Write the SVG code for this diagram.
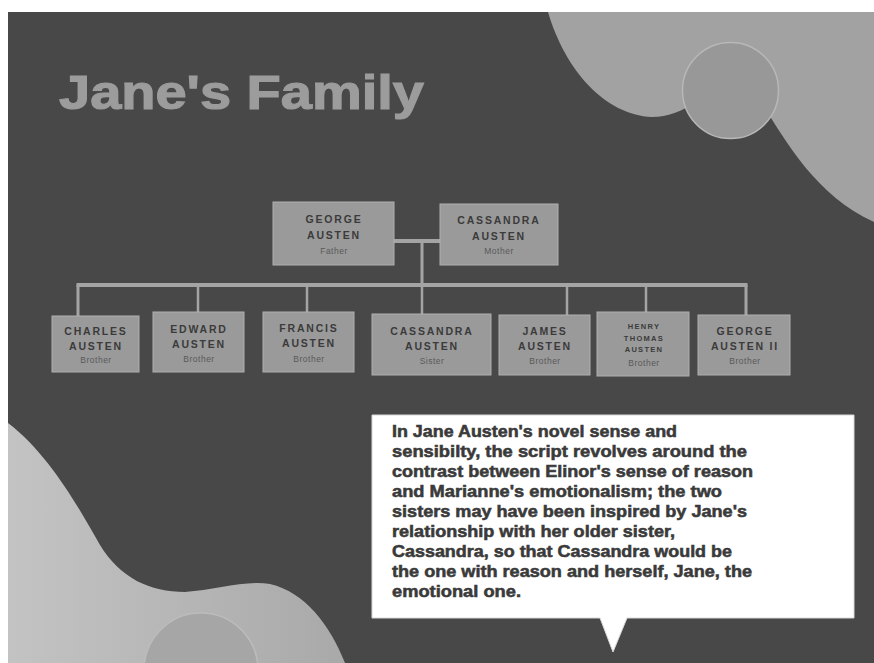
<svg xmlns="http://www.w3.org/2000/svg" width="874" height="663" viewBox="0 0 874 663">
<style>
.node rect{fill:#9a9a9a;stroke:#afafaf;stroke-width:1}
.nm{font-family:"Liberation Sans",Arial,sans-serif;font-weight:bold;font-size:10.5px;letter-spacing:1.8px;fill:#3b3b3b;text-anchor:middle}
.sm{font-size:7.5px;letter-spacing:1.3px}
.role{font-family:"Liberation Sans",Arial,sans-serif;font-size:8.5px;letter-spacing:0.5px;fill:#595959;text-anchor:middle}
.conn line{stroke:#a4a4a4;stroke-linecap:butt}
.body{font-family:"Liberation Sans",Arial,sans-serif;font-weight:bold;font-size:16.5px;fill:#3a3a3a;stroke:#3a3a3a;stroke-width:0.55}
</style>
<defs>
<linearGradient id="blobL" x1="0" y1="0" x2="1" y2="0">
<stop offset="0" stop-color="#c3c3c3"/>
<stop offset="1" stop-color="#a9a9a9"/>
</linearGradient>
</defs>
<rect x="0" y="0" width="874" height="663" fill="#ffffff"/>
<rect x="8" y="12" width="866" height="651" fill="#484848"/>
<g id="decor">
<path d="M548,12 C565,70 605,115 652,117 C668,117 680,112 700,100 L760,100 C785,140 815,195 874,222 L874,12 Z" fill="#a2a2a2"/>
<circle cx="730.5" cy="90.5" r="48" fill="#989898" stroke="#b8b8b8" stroke-width="1.5"/>
<path d="M8,423 C50,455 80,510 100,545 C120,578 150,592 185,592 C215,590 245,580 270,584 C305,592 330,625 345,663 L8,663 Z" fill="url(#blobL)"/>
<circle cx="201" cy="670" r="57" fill="#a6a6a6" stroke="#bcbcbc" stroke-width="1.5"/>
</g>
<text x="59" y="109" font-family="'Liberation Sans',Arial,sans-serif" font-weight="bold" font-size="48" fill="#9c9c9c" stroke="#9c9c9c" stroke-width="1.2" textLength="365" lengthAdjust="spacingAndGlyphs">Jane's Family</text>
<g id="connectors" class="conn">
<line x1="394" y1="241" x2="440" y2="241" stroke-width="4"/>
<line x1="422" y1="241" x2="422" y2="285" stroke-width="3"/>
<line x1="76.5" y1="285" x2="747.5" y2="285" stroke-width="4"/>
<line x1="78" y1="285" x2="78" y2="316" stroke-width="3"/>
<line x1="198" y1="285" x2="198" y2="312" stroke-width="2.5"/>
<line x1="307" y1="285" x2="307" y2="312" stroke-width="2.5"/>
<line x1="422" y1="285" x2="422" y2="314" stroke-width="2.5"/>
<line x1="567" y1="285" x2="567" y2="315" stroke-width="2.5"/>
<line x1="646" y1="285" x2="646" y2="312" stroke-width="2.5"/>
<line x1="746" y1="285" x2="746" y2="315" stroke-width="3"/>
</g>
<g id="george" class="node">
<rect x="273" y="202" width="121" height="63"/>
<text class="nm" x="334" y="223">GEORGE</text>
<text class="nm" x="334" y="239">AUSTEN</text>
<text class="role" x="334" y="254">Father</text>
</g>
<g id="cassandra-mother" class="node">
<rect x="440" y="204" width="118" height="61"/>
<text class="nm" x="499" y="224">CASSANDRA</text>
<text class="nm" x="499" y="240">AUSTEN</text>
<text class="role" x="499" y="254">Mother</text>
</g>
<g id="charles" class="node">
<rect x="52" y="316" width="87" height="56"/>
<text class="nm" x="96" y="335">CHARLES</text>
<text class="nm" x="96" y="350">AUSTEN</text>
<text class="role" x="96" y="363">Brother</text>
</g>
<g id="edward" class="node">
<rect x="153" y="312" width="91" height="60"/>
<text class="nm" x="199" y="333">EDWARD</text>
<text class="nm" x="199" y="348">AUSTEN</text>
<text class="role" x="199" y="362">Brother</text>
</g>
<g id="francis" class="node">
<rect x="263" y="312" width="91" height="60"/>
<text class="nm" x="309" y="332">FRANCIS</text>
<text class="nm" x="309" y="347">AUSTEN</text>
<text class="role" x="309" y="362">Brother</text>
</g>
<g id="cassandra-sister" class="node">
<rect x="372" y="314" width="119" height="61"/>
<text class="nm" x="432" y="335">CASSANDRA</text>
<text class="nm" x="432" y="350">AUSTEN</text>
<text class="role" x="432" y="364">Sister</text>
</g>
<g id="james" class="node">
<rect x="499" y="315" width="91" height="60"/>
<text class="nm" x="545" y="335">JAMES</text>
<text class="nm" x="545" y="350">AUSTEN</text>
<text class="role" x="545" y="364">Brother</text>
</g>
<g id="henry" class="node">
<rect x="597" y="312" width="92" height="64"/>
<text class="nm sm" x="644" y="329">HENRY</text>
<text class="nm sm" x="644" y="341">THOMAS</text>
<text class="nm sm" x="644" y="352">AUSTEN</text>
<text class="role" x="644" y="366">Brother</text>
</g>
<g id="george-ii" class="node">
<rect x="698" y="315" width="92" height="60"/>
<text class="nm" x="745" y="335">GEORGE</text>
<text class="nm" x="745" y="350">AUSTEN II</text>
<text class="role" x="745" y="364">Brother</text>
</g>
<g id="callout">
<path d="M372,415 H854 V618 H627 L613,652 L600,618 H372 Z" fill="#ffffff" stroke="#d8d8d8" stroke-width="1"/>
<text class="body" x="392" y="437" textLength="285" lengthAdjust="spacingAndGlyphs">In Jane Austen's novel sense and</text>
<text class="body" x="392" y="457" textLength="355" lengthAdjust="spacingAndGlyphs">sensibilty, the script revolves around the</text>
<text class="body" x="392" y="477" textLength="361" lengthAdjust="spacingAndGlyphs">contrast between Elinor's sense of reason</text>
<text class="body" x="392" y="497" textLength="330" lengthAdjust="spacingAndGlyphs">and Marianne's emotionalism; the two</text>
<text class="body" x="392" y="517" textLength="355" lengthAdjust="spacingAndGlyphs">sisters may have been inspired by Jane's</text>
<text class="body" x="392" y="537" textLength="283" lengthAdjust="spacingAndGlyphs">relationship with her older sister,</text>
<text class="body" x="392" y="557" textLength="340" lengthAdjust="spacingAndGlyphs">Cassandra, so that Cassandra would be</text>
<text class="body" x="392" y="577" textLength="360" lengthAdjust="spacingAndGlyphs">the one with reason and herself, Jane, the</text>
<text class="body" x="392" y="597" textLength="129" lengthAdjust="spacingAndGlyphs">emotional one.</text>
</g>
</svg>
